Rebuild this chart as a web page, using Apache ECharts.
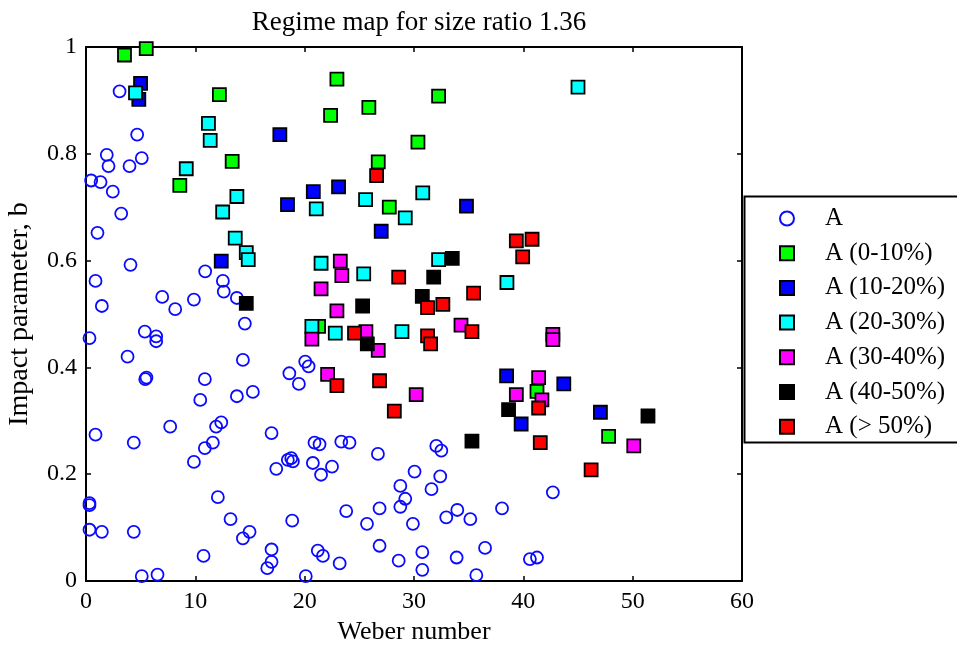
<!DOCTYPE html>
<html>
<head>
<meta charset="utf-8">
<script src="https://cdn.jsdelivr.net/npm/echarts@6/dist/echarts.min.js"></script>
<style>html,body{margin:0;padding:0;background:#fff}#c{width:957px;height:647px}</style>
</head>
<body>
<div id="c"></div>
<script>
const seriesNames = ['A', 'A (0-10%)', 'A (10-20%)', 'A (20-30%)', 'A (30-40%)', 'A (40-50%)', 'A (> 50%)'];
const xTicks = [0, 10, 20, 30, 40, 50, 60];
const yTicks = [0, 0.2, 0.4, 0.6, 0.8, 1];

const pointsA = [
  [3.07,0.917],[4.68,0.836],[1.9,0.798],[2.06,0.777],[3.98,0.777],[5.1,0.792],[0.47,0.75],[1.33,0.747],
  [2.45,0.729],[3.22,0.688],[1.05,0.652],[4.07,0.592],[0.87,0.562],[10.9,0.58],[12.52,0.562],[12.6,0.542],
  [6.97,0.532],[9.87,0.527],[13.8,0.530],[1.45,0.515],[8.16,0.509],[14.53,0.482],[0.32,0.455],[5.38,0.467],
  [6.42,0.458],[6.42,0.449],[3.8,0.42],[14.35,0.414],[5.42,0.378],[5.53,0.381],[10.87,0.378],[10.45,0.339],
  [13.8,0.346],[15.26,0.354],[0.87,0.274],[4.37,0.259],[7.7,0.289],[11.9,0.289],[12.37,0.297],[11.6,0.259],
  [10.87,0.249],[9.87,0.223],[16.97,0.277],[17.4,0.210],[0.32,0.146],[0.32,0.142],[12.06,0.157],[13.22,0.116],
  [0.32,0.096],[1.45,0.092],[4.37,0.092],[14.35,0.080],[14.96,0.092],[10.75,0.047],[16.97,0.059],[16.97,0.036],
  [16.58,0.024],[5.1,0.009],[6.54,0.012],[18.6,0.389],[19.47,0.369],[20.05,0.411],[20.36,0.402],[26.85,0.375],
  [20.9,0.259],[21.36,0.256],[23.35,0.261],[24.1,0.259],[26.7,0.238],[32.04,0.253],[32.5,0.244],[18.46,0.227],
  [18.77,0.230],[18.92,0.224],[20.75,0.221],[21.5,0.199],[22.5,0.214],[30.05,0.205],[32.4,0.196],[28.75,0.178],
  [31.6,0.172],[29.2,0.154],[28.75,0.139],[26.85,0.136],[23.8,0.131],[18.86,0.113],[25.7,0.107],[29.9,0.107],
  [32.95,0.119],[33.96,0.133],[35.15,0.116],[38.05,0.136],[42.7,0.166],[21.2,0.057],[21.67,0.047],[23.2,0.033],
  [26.85,0.066],[28.6,0.038],[30.76,0.054],[30.76,0.021],[33.9,0.044],[36.5,0.062],[40.6,0.041],[41.25,0.044],
  [35.7,0.011],[20.1,0.009]
];
const points0to10 = [
  [3.52,0.985],[5.51,0.997],[12.2,0.911],[13.37,0.786],[8.58,0.741],[22.95,0.940],[32.25,0.908],[25.87,0.887],
  [22.37,0.872],[30.36,0.822],[26.73,0.785],[27.74,0.700],[21.27,0.477],[41.25,0.355],[47.8,0.271]
];
const points10to20 = [
  [4.99,0.932],[4.83,0.902],[17.73,0.836],[20.79,0.729],[23.1,0.738],[18.43,0.705],[34.8,0.702],[27.0,0.655],
  [12.37,0.599],[38.47,0.384],[43.7,0.369],[47.05,0.316],[39.8,0.294]
];
const points20to30 = [
  [4.53,0.914],[45.0,0.925],[11.2,0.857],[11.36,0.825],[9.17,0.772],[13.8,0.72],[12.5,0.691],[21.06,0.697],
  [25.57,0.714],[30.8,0.727],[29.2,0.680],[13.65,0.642],[14.66,0.615],[14.84,0.602],[21.5,0.595],[25.4,0.575],
  [32.25,0.602],[38.5,0.559],[20.66,0.477],[22.8,0.464],[28.9,0.467]
];
const points30to40 = [
  [23.26,0.599],[23.4,0.572],[21.5,0.547],[22.95,0.506],[34.3,0.479],[20.66,0.453],[25.6,0.467],[26.73,0.432],
  [42.7,0.462],[42.7,0.452],[22.1,0.387],[30.2,0.349],[39.36,0.349],[41.4,0.381],[41.7,0.339],[50.1,0.253]
];
const points40to50 = [
  [14.66,0.520],[33.5,0.604],[31.8,0.569],[30.76,0.533],[25.3,0.515],[25.73,0.444],[38.65,0.321],[51.4,0.309],
  [35.3,0.262]
];
const pointsAbove50 = [
  [26.58,0.759],[39.36,0.637],[40.8,0.640],[39.94,0.607],[35.45,0.539],[28.6,0.569],[31.24,0.512],[32.64,0.518],
  [24.56,0.464],[35.3,0.467],[31.24,0.459],[31.52,0.444],[22.95,0.366],[26.85,0.375],[28.2,0.318],[41.4,0.324],
  [41.55,0.259],[46.2,0.208]
];

const squareSets = [points0to10, points10to20, points20to30, points30to40, points40to50, pointsAbove50];
const squareColors = ['#00ff00', '#0000ff', '#00ffff', '#ff00ff', '#000000', '#ff0000'];

const FONT = 'Liberation Serif';
const chart = echarts.init(document.getElementById('c'), null, {renderer: 'canvas'});

function axisCommon(min, max, interval) {
  return {
    type: 'value', min: min, max: max, interval: interval,
    axisLine: {show: true, onZero: false, lineStyle: {color: '#000', width: 2}},
    axisTick: {show: true, inside: true, length: 5, lineStyle: {color: '#000', width: 1.5}},
    splitLine: {show: false}
  };
}

const series = [{
  name: seriesNames[0], type: 'scatter', data: pointsA, symbol: 'circle', symbolSize: 12,
  itemStyle: {color: 'rgba(255,255,255,0)', borderColor: '#0a0aff', borderWidth: 1.8, opacity: 1},
  emphasis: {disabled: true}, z: 2
}];
squareSets.forEach(function (d, i) {
  series.push({
    name: seriesNames[i + 1], type: 'scatter', data: d, symbol: 'rect', symbolSize: 13,
    itemStyle: {color: squareColors[i], borderColor: '#000', borderWidth: 1.8, opacity: 1},
    emphasis: {disabled: true}, z: 3 + i
  });
});

chart.setOption({
  animation: false,
  backgroundColor: '#fff',
  title: {
    text: 'Regime map for size ratio 1.36', left: 414, top: 4, textAlign: 'center',
    textStyle: {fontFamily: FONT, fontSize: 27, fontWeight: 'normal', color: '#000'}
  },
  grid: {left: 86, right: 215, top: 47, bottom: 66, containLabel: false, outerBoundsMode: 'none'},
  xAxis: [
    Object.assign(axisCommon(xTicks[0], xTicks[xTicks.length - 1], 10), {
      position: 'bottom',
      axisLabel: {show: true, margin: 9, fontFamily: FONT, fontSize: 24, color: '#000'},
      name: 'Weber number', nameLocation: 'middle', nameGap: 37,
      nameTextStyle: {fontFamily: FONT, fontSize: 26, color: '#000'}
    }),
    Object.assign(axisCommon(xTicks[0], xTicks[xTicks.length - 1], 10), {
      position: 'top', axisLabel: {show: false}
    })
  ],
  yAxis: [
    Object.assign(axisCommon(yTicks[0], yTicks[yTicks.length - 1], 0.2), {
      position: 'left',
      axisLabel: {show: true, margin: 9, fontFamily: FONT, fontSize: 24, color: '#000'},
      name: 'Impact parameter, b', nameLocation: 'middle', nameGap: 52,
      nameTextStyle: {fontFamily: FONT, fontSize: 28, color: '#000'}
    }),
    Object.assign(axisCommon(yTicks[0], yTicks[yTicks.length - 1], 0.2), {
      position: 'right', axisLabel: {show: false}
    })
  ],
  legend: {
    orient: 'vertical', left: 774, top: 201,
    itemWidth: 14, itemHeight: 14, itemGap: 9.7,
    data: seriesNames,
    selectedMode: false,
    textStyle: {fontFamily: FONT, fontSize: 25, color: '#000', padding: [0, 0, 0, 26]}
  },
  graphic: [{
    type: 'rect', left: 742, top: 194, z: 100,
    shape: {width: 260, height: 246},
    style: {fill: 'none', stroke: '#000', lineWidth: 2}
  }],
  series: series
});
</script>
</body>
</html>
